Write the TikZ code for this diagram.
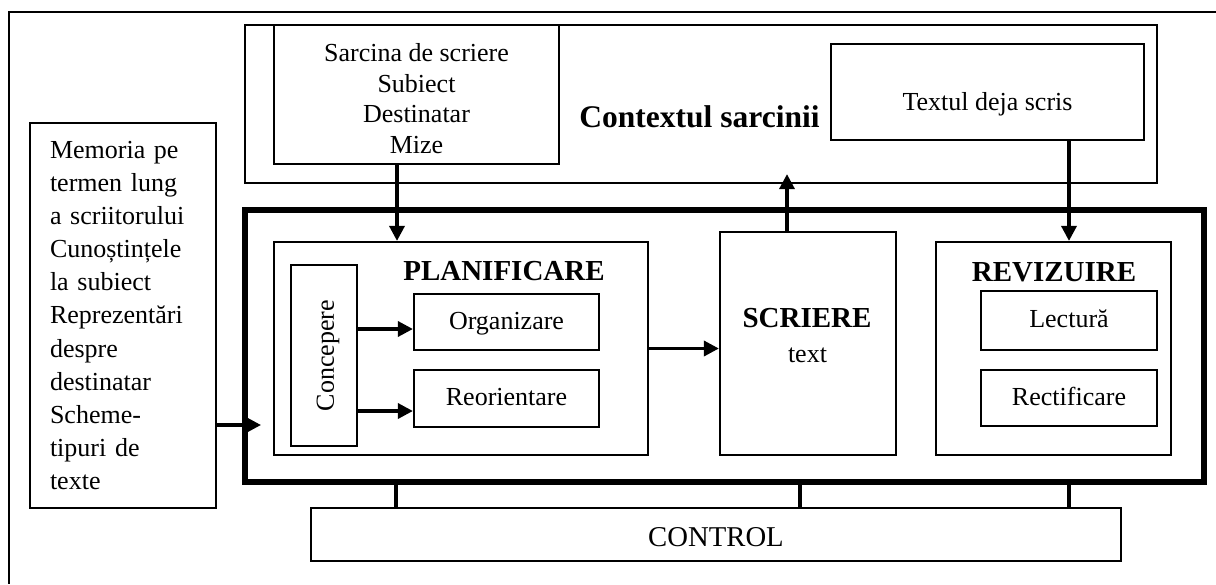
\documentclass[tikz,border=0pt]{standalone}
\usepackage{fontspec}
\setmainfont{Liberation Serif}
\usetikzlibrary{arrows.meta,calc}
\begin{document}
\begin{tikzpicture}[x=1pt,y=-1pt,
  box/.style={draw, line width=2.2pt, inner sep=0pt},
  arr/.style={line width=3.4pt, -{Triangle[length=15pt,width=15pt]}},
  link/.style={line width=4pt},
  txt/.style={font=\fontsize{26pt}{30.5pt}\selectfont},
  hd/.style={font=\fontsize{29pt}{34pt}\selectfont\bfseries},
  small/.style={box, text height=20pt, text depth=6pt, font=\fontsize{26pt}{30pt}\selectfont}]
\useasboundingbox (0,0) rectangle (1216,584);
% outer frame (cropped at right and bottom)
\draw[line width=1.8pt] (1216,12) -- (9,12) -- (9,584);

% task context
\node[box, minimum width=912pt, minimum height=158pt] (ctx) at (701,104) {};
\node[box, minimum width=285pt, minimum height=139pt] (sar) at (416.5,94.5) {};
\node[txt, align=center] (sartxt) at (416.5,98.5) {Sarcina de scriere\\Subiect\\Destinatar\\Mize};
\node[box, minimum width=313pt, minimum height=96pt] (tds) at (987.5,92) {};
\node[txt, anchor=base] (tdstxt) at (987.5,110) {Textul deja scris};
\node[font=\fontsize{31.5pt}{36pt}\selectfont\bfseries, anchor=base] (ctxtxt) at (699.5,127) {Contextul sarcinii};

% main process box
\node[box, line width=6pt, minimum width=959pt, minimum height=272.5pt] (main) at (724.5,346) {};

% planning
\node[box, minimum width=374pt, minimum height=213pt] (plan) at (461,348.5) {};
\node[hd, anchor=base] (plantxt) at (504,280) {PLANIFICARE};
\node[box, minimum width=66pt, minimum height=181pt] (conc) at (324,355.5) {};
\node[txt, rotate=90] (conctxt) at (328,355.5) {Concepere};
\node[small, minimum width=185pt, minimum height=56pt] (org) at (506.5,322) {Organizare};
\node[small, minimum width=185pt, minimum height=57pt] (reo) at (506.5,398.5) {Reorientare};

% writing
\node[box, minimum width=176pt, minimum height=223pt] (scr) at (808,343.5) {};
\node[hd, anchor=base] (scrtxt) at (807,327.7) {SCRIERE};
\node[txt, anchor=base] (scrtxt2) at (807.5,362.7) {text};

% revision
\node[box, minimum width=235pt, minimum height=213pt] (rev) at (1053.5,348.5) {};
\node[hd, anchor=base] (revtxt) at (1054,281) {REVIZUIRE};
\node[small, minimum width=176pt, minimum height=59pt] (lec) at (1069,320.5) {Lectură};
\node[small, minimum width=176pt, minimum height=56pt] (rec) at (1069,398) {Rectificare};

% long-term memory
\node[box, minimum width=186pt, minimum height=385pt, align=left, text width=146pt,
      inner xsep=20pt, font=\fontsize{26pt}{33.07pt}\selectfont] (mem) at (123,315.5)
  {Memoria pe\\termen lung\\a scriitorului\\Cunoștințele\\la subiect\\Reprezentări\\despre\\destinatar\\Scheme-\\tipuri de\\texte};

% control
\node[box, minimum width=810pt, minimum height=53pt, text height=24pt, text depth=0pt,
      font=\fontsize{28.7pt}{34pt}\selectfont] (ctl) at (716,534.5) {CONTROL};

% arrows
\coordinate (s0) at ([xshift=-19.5pt]sar.south);
\draw[arr] (s0) -- (s0 |- plan.north);

\coordinate (up0) at ([xshift=-21pt]scr.north);
\draw[arr] (up0) -- ($(up0 |- ctx.south)+(0,-10)$);

\draw[arr] (tds.south -| lec.north) -- (lec.north |- rev.north);

\coordinate (m0) at ([yshift=-109.5pt]mem.east);
\draw[arr] (m0) -- ($(m0 -| main.west)+(19,0)$);

\coordinate (o1) at ([yshift=-7pt]org.west);
\draw[arr] (o1 -| conc.east) -- (o1);
\coordinate (r1) at ([yshift=-12.5pt]reo.west);
\draw[arr] (r1 -| conc.east) -- (r1);

\draw[arr] (plan.east) -- (plan.east -| scr.west);

% control links
\coordinate (c1) at ([xshift=-320pt]ctl.north);
\coordinate (c2) at ([xshift=84pt]ctl.north);
\coordinate (c3) at ([xshift=353pt]ctl.north);
\draw[link] (c1 |- main.south) -- (c1);
\draw[link] (c2 |- main.south) -- (c2);
\draw[link] (c3 |- main.south) -- (c3);
\end{tikzpicture}
\end{document}
